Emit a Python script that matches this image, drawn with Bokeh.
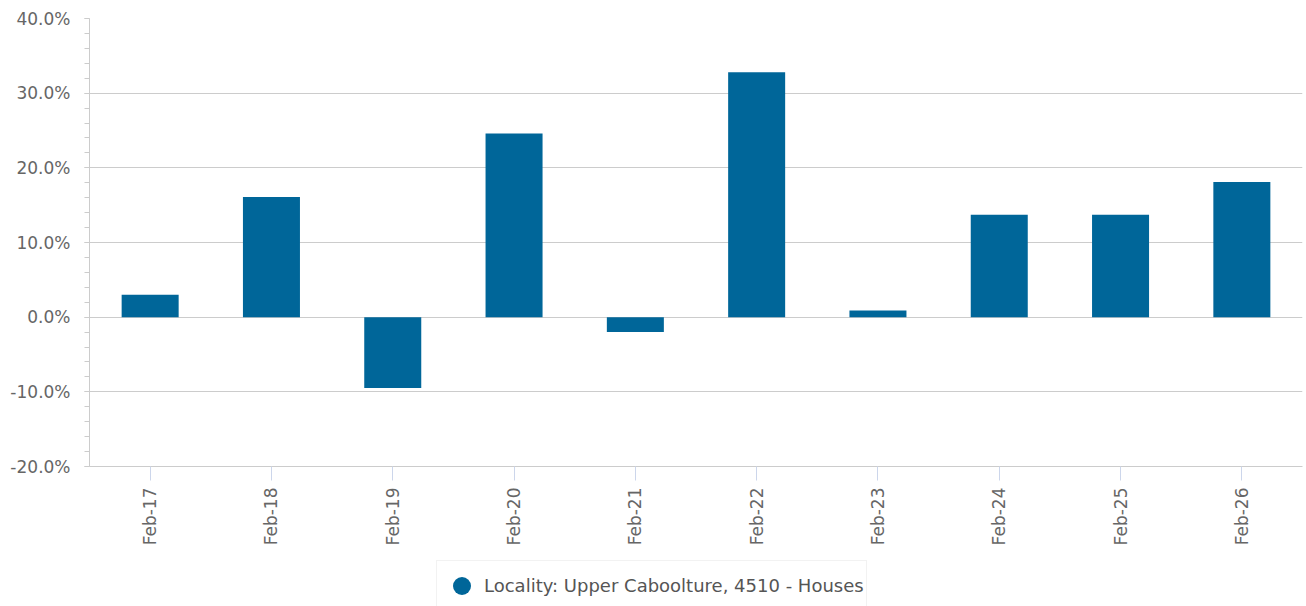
import math
from bokeh.plotting import figure
from bokeh.layouts import column
from bokeh.models import (ColumnDataSource, Range1d, FactorRange, SingleIntervalTicker,
                          PrintfTickFormatter, Legend, LegendItem)
from bokeh.embed import file_html
from bokeh.resources import INLINE

# ---- data ----
categories = ["Feb-17", "Feb-18", "Feb-19", "Feb-20", "Feb-21",
              "Feb-22", "Feb-23", "Feb-24", "Feb-25", "Feb-26"]
growth_pct = [3.0, 16.1, -9.5, 24.6, -2.0, 32.8, 0.9, 13.7, 13.7, 18.1]
series_name = "Locality: Upper Caboolture, 4510 - Houses"
y_min, y_max, y_step = -20, 40, 10

BAR = "#006699"
GRID = "#cccccc"
LABEL = "#666666"
FONT = "DejaVu Sans"

src = ColumnDataSource(dict(cat=categories, val=growth_pct))

p = figure(width=1306, height=548, x_range=FactorRange(*categories),
           y_range=Range1d(y_min, y_max), output_backend="svg",
           toolbar_location=None, min_border_left=89, min_border_right=4,
           min_border_top=18, min_border_bottom=82)
p.outline_line_color = None
p.background_fill_color = "white"
p.border_fill_color = "white"

p.vbar(x="cat", top="val", bottom=0, width=0.47, source=src,
       fill_color=BAR, line_color=None)

# y axis
p.yaxis.ticker = SingleIntervalTicker(interval=y_step, num_minor_ticks=5)
p.yaxis.formatter = PrintfTickFormatter(format="%.1f%%")
p.yaxis.axis_line_color = GRID
p.yaxis.major_tick_line_color = GRID
p.yaxis.major_tick_out = 5
p.yaxis.major_tick_in = 0
p.yaxis.minor_tick_line_color = GRID
p.yaxis.minor_tick_out = 5
p.yaxis.minor_tick_in = 0
p.yaxis.major_label_standoff = 14
p.yaxis.major_label_text_font = FONT
p.yaxis.major_label_text_font_size = "17px"
p.yaxis.major_label_text_color = LABEL

# x axis
p.xaxis.axis_line_color = GRID
p.xaxis.major_tick_line_color = "#ccd6eb"
p.xaxis.major_tick_out = 14
p.xaxis.major_tick_in = 0
p.xaxis.major_label_orientation = math.pi / 2
p.xaxis.major_label_standoff = 7
p.xaxis.major_label_text_font = FONT
p.xaxis.major_label_text_font_size = "17px"
p.xaxis.major_label_text_color = LABEL

# grids
p.xgrid.grid_line_color = None
p.ygrid.grid_line_color = GRID
p.ygrid.grid_line_width = 1

# ---- legend strip (separate small figure below the chart) ----
lg = figure(width=1306, height=58, output_backend="svg", toolbar_location=None,
            x_axis_location=None, y_axis_location=None,
            x_range=Range1d(0, 1), y_range=Range1d(0, 1),
            min_border_left=0, min_border_right=0, min_border_top=0, min_border_bottom=0)
lg.outline_line_color = None
lg.xgrid.grid_line_color = None
lg.ygrid.grid_line_color = None
# a series swatch only: NaN point, nothing is plotted in the strip itself
leg_r = lg.scatter(x=[float("nan")], y=[float("nan")], marker="circle", size=18,
                   fill_color=BAR, line_color=None)

legend = Legend(items=[LegendItem(label=series_name, renderers=[leg_r])],
                location=(347, -5), margin=0, padding=2,
                glyph_width=45, glyph_height=45, label_standoff=0,
                label_text_font=FONT, label_text_font_size="18px",
                label_text_color="#555555",
                border_line_color="#e6e6e6", border_line_width=1,
                background_fill_color="white", background_fill_alpha=1)
lg.add_layout(legend, "center")

layout = column(p, lg, spacing=0)
open("out.html", "w").write(file_html(layout, INLINE))
